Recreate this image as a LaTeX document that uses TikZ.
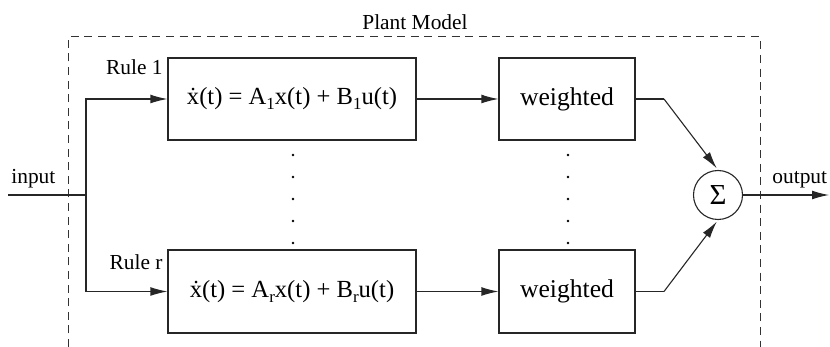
\documentclass[tikz,border=0pt]{standalone}
\usepackage{fontspec}
\setmainfont{Liberation Serif}
\usetikzlibrary{arrows.meta}
\newcommand{\lowsub}[1]{\raisebox{-0.45ex}{\fontsize{8.5pt}{10pt}\selectfont #1}}
\begin{document}
\begin{tikzpicture}[x=0.5pt,y=-0.5pt,
  conn/.style={line width=0.55pt,draw=black!85},
  arr/.style={conn,-{Latex[length=8.5pt,width=4.4pt]}},
  blk/.style={draw=black!85,line width=0.55pt,inner sep=0pt,font=\fontsize{12.8pt}{15pt}\selectfont},
  eqn/.style={blk,font=\fontsize{12.3pt}{15pt}\selectfont},
  lbl/.style={inner sep=0pt,font=\fontsize{10.7pt}{13pt}\selectfont},
  plant/.style={draw=black!80,line width=0.5pt,dash pattern=on 4pt off 2.8pt},
  dotmark/.style={fill=black,draw=none,circle,inner sep=0pt,minimum size=1.4pt}]
\useasboundingbox (0,0) rectangle (830,347);
% plant model frame
\draw[plant] (68,347) -- (68,37) -- (760,37) -- (760,347);
\node[lbl,anchor=base] (plantlbl) at (415,30) {Plant Model};
% blocks
\node[eqn,minimum width=124pt,minimum height=41pt] (r1) at (292,99) {\.{x}(t) = A\lowsub{1}x(t) + B\lowsub{1}u(t)};
\node[eqn,minimum width=124pt,minimum height=41.5pt] (rr) at (292,291.5) {\.{x}(t) = A\lowsub{r}x(t) + B\lowsub{r}u(t)};
\node[blk,minimum width=68pt,minimum height=41pt] (w1) at (567,99) {weighted};
\node[blk,minimum width=68pt,minimum height=41.5pt] (wr) at (567,291.5) {weighted};
\node[draw=black!85,line width=0.55pt,circle,inner sep=0pt,minimum size=24.5pt,font=\fontsize{14.5pt}{16pt}\selectfont] (sum) at (718,195) {Σ};
% labels
\node[lbl,anchor=base east] (rule1) at (163,75) {Rule 1};
\node[lbl,anchor=base east] (ruler) at (163,270) {Rule r};
\node[lbl,anchor=base west] (inlbl) at (11,184) {input};
\node[lbl,anchor=base west] (outlbl) at (772,184) {output};
% dots
\foreach \yy [count=\i] in {155,177,199,221,243} {
  \node[dotmark] (da\i) at (293,\yy) {};
  \node[dotmark] (db\i) at (568,\yy) {};
}
% connectors
\coordinate (in) at (8,195);
\coordinate (j) at (86,195);
\coordinate (k1) at (664,99);
\coordinate (kr) at (664,291.5);
\coordinate (out) at (829,195);
\draw[conn] (in) -- (j);
\draw[arr] (j) |- (r1.west);
\draw[arr] (j) |- (rr.west);
\draw[arr] (r1) -- (w1);
\draw[arr] (rr) -- (wr);
\draw[conn] (w1.east) -- (k1);
\draw[arr,shorten >=1pt] (k1) -- (sum.north);
\draw[conn] (wr.east) -- (kr);
\draw[arr,shorten >=1pt] (kr) -- (sum.south);
\draw[arr] (sum.east) -- (out);
\end{tikzpicture}
\end{document}
